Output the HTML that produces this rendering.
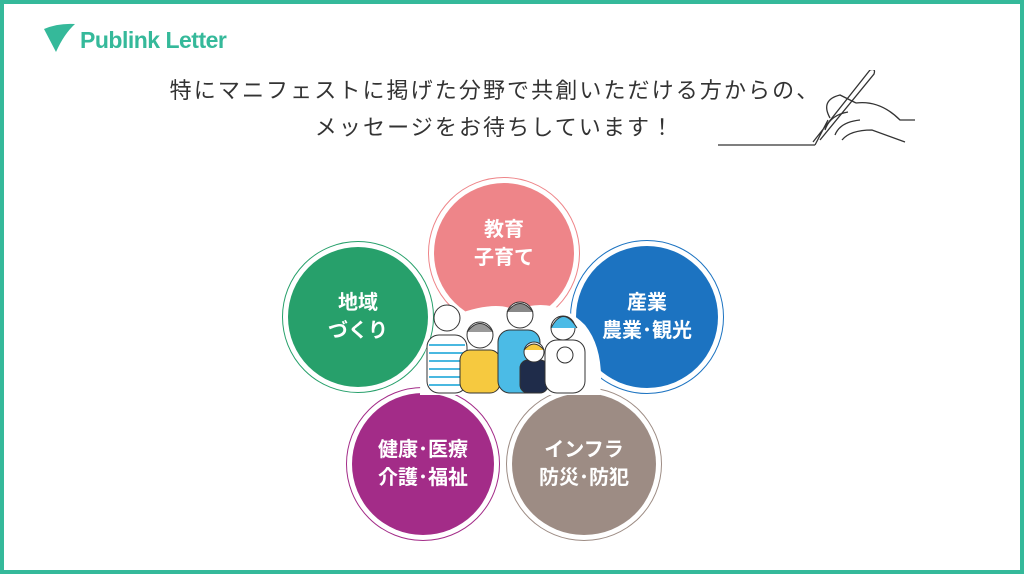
<!DOCTYPE html>
<html><head><meta charset="utf-8"><style>
body{margin:0;width:1024px;height:574px;overflow:hidden;background:#fff;font-family:"Liberation Sans","Noto Sans CJK JP",sans-serif}
.frame{position:absolute;left:0;top:0;width:1016px;height:566px;border:4px solid #35b99a;}
.t{position:absolute;left:0;width:990px;text-align:center;font-size:22px;letter-spacing:2.1px;color:#333;white-space:nowrap}
.c{position:absolute;border-radius:50%;display:flex;align-items:center;justify-content:center;text-align:center;color:#fff;font-weight:bold;font-size:20px;line-height:28px}
.c::before{content:"";position:absolute;inset:-6px;border-radius:50%;border:1.5px solid var(--k)}
</style></head><body>
<div class="frame"></div>
<svg style="position:absolute;left:42px;top:22px" width="36" height="34"><path d="M2 7 Q16 1 33 2 Q22 12 14 30 Z" fill="#35b99a"/></svg>
<div style="position:absolute;left:80px;top:27px;font-size:23px;font-weight:bold;color:#35b99a;letter-spacing:-0.5px">Publink Letter</div>
<div class="t" style="top:73px">特にマニフェストに掲げた分野で共創いただける方からの、</div>
<div class="t" style="top:110px">メッセージをお待ちしています！</div>
<svg style="position:absolute;left:700px;top:70px" width="230" height="90">
<g fill="none" stroke="#333" stroke-width="1.3">
<path d="M18 75 H115"/>
<path d="M115 75 L128 50 M113 72 L170 0 Q176 -2 174 4 L120 70"/>
<path d="M156 33 Q180 30 200 50 H215"/>
<path d="M130 48 Q120 30 140 25 L156 33"/>
<path d="M125 60 Q130 45 148 42"/><path d="M135 65 Q140 52 160 50"/><path d="M142 70 Q150 60 172 60 L205 72"/>
</g></svg>
<div class="c" style="left:434px;top:183px;width:140px;height:140px;background:#ee8589;--k:#ee8589;padding-bottom:18px;box-sizing:border-box">教育<br>子育て</div>
<div class="c" style="left:288px;top:247px;width:140px;height:140px;background:#27a06b;--k:#27a06b">地域<br>づくり</div>
<div class="c" style="left:576px;top:246px;width:142px;height:142px;background:#1c73c1;--k:#1c73c1">産業<br>農業･観光</div>
<div class="c" style="left:352px;top:393px;width:142px;height:142px;background:#a32c88;--k:#a32c88">健康･医療<br>介護･福祉</div>
<div class="c" style="left:512px;top:393px;width:144px;height:142px;background:#9d8c84;--k:#9d8c84">インフラ<br>防災･防犯</div>
<svg style="position:absolute;left:415px;top:290px" width="190" height="110">
<path d="M5 105 Q5 40 40 25 Q80 10 100 20 Q140 5 170 35 Q190 60 185 105 Z" fill="#fff"/>
<g stroke="#333" stroke-width="1">
<rect x="12" y="45" width="40" height="58" rx="12" fill="#fff"/>
<path d="M14 55 H50 M14 63 H50 M14 71 H50 M14 79 H50 M14 87 H50 M14 95 H50" stroke="#4ab8e0" stroke-width="2"/>
<circle cx="32" cy="28" r="13" fill="#fff"/>
<rect x="45" y="60" width="40" height="43" rx="10" fill="#f6c93f"/>
<circle cx="65" cy="45" r="13" fill="#fff"/><path d="M52 42 Q65 25 78 42" fill="#999"/>
<rect x="83" y="40" width="42" height="63" rx="12" fill="#4bbbe6"/>
<circle cx="105" cy="25" r="13" fill="#fff"/><path d="M92 22 Q105 5 118 22" fill="#888"/>
<rect x="105" y="70" width="28" height="33" rx="8" fill="#1f2c4a"/>
<circle cx="119" cy="62" r="10" fill="#fff"/><path d="M109 60 Q119 48 129 60" fill="#f6c93f"/>
<rect x="130" y="50" width="40" height="53" rx="12" fill="#fff"/>
<circle cx="148" cy="38" r="12" fill="#fff"/><path d="M136 38 Q148 15 162 38" fill="#4bbbe6"/>
<circle cx="150" cy="65" r="8" fill="#fff"/>
</g></svg>
</body></html>
